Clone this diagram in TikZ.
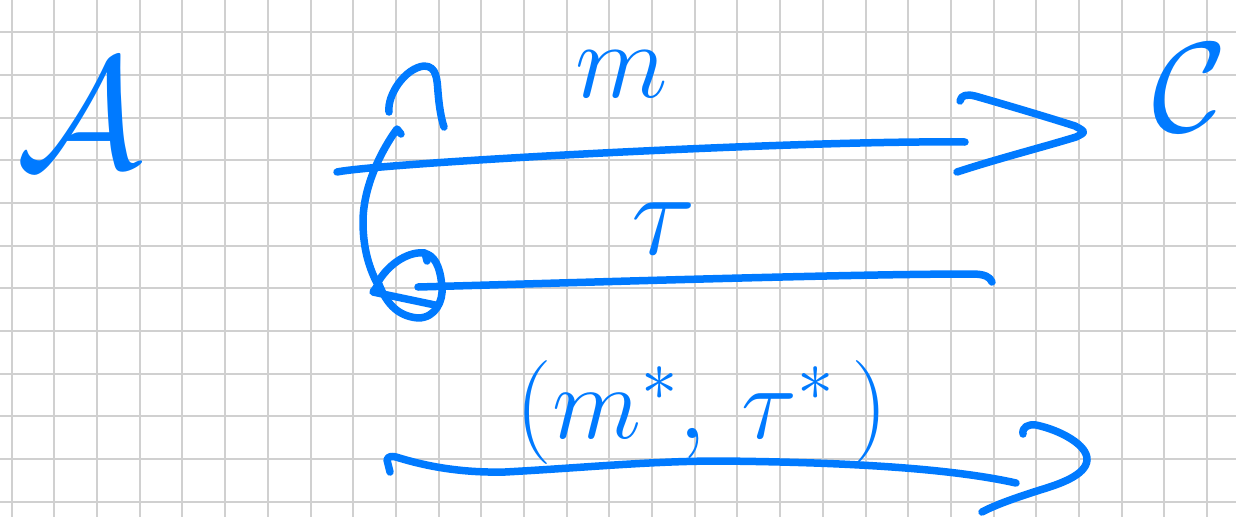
\documentclass[tikz,border=0pt]{standalone}
\usepackage{fix-cm}
\definecolor{ink}{RGB}{0,122,255}
\definecolor{gridgray}{RGB}{208,208,208}
\tikzset{
  gridline/.style={draw=gridgray, line width=2pt},
  hand/.style={draw=ink, line width=7.5pt, line cap=round, line join=round},
  label/.style={text=ink, inner sep=0pt},
}
\newcommand{\fsz}[1]{\fontsize{#1}{#1}\selectfont}
\begin{document}
\begin{tikzpicture}[x=1pt,y=-1pt]
  % page
  \fill[white] (0,0) rectangle (1236,517);
  \useasboundingbox (0,0) rectangle (1236,517);
  % squared paper
  \foreach \i in {0,...,28} \draw[gridline] ({11.7+42.69*\i},0) -- ++(0,517);
  \foreach \j in {0,...,11} \draw[gridline] (0,{32.3+42.67*\j}) -- ++(1236,0);

  % parties
  \node[label, anchor=base, font=\fsz{158}] (adv) at (80,167) {$\mathcal{A}$};
  \node[label, anchor=base, font=\fsz{128}] (chal) at (1190,131) {$\mathcal{C}$};

  % message labels
  \node[label, font=\fsz{108}] (lblm) at (622,74) {$m$};
  \node[label, font=\fsz{120}] (lbltau) at (664,229) {$\tau$};
  \node[label, font=\fsz{104}] (lblpair) at (702,412) {$(m^*,\,\tau^*\,)$};

  % arrow ends
  \coordinate (qstart) at (337,172);
  \coordinate (qend)   at (965,142);
  \coordinate (qtip)   at (1086,132);
  \coordinate (rstart) at (418,287);
  \coordinate (rend)   at (992,282);
  \coordinate (fstart) at (390,472);
  \coordinate (fend)   at (1016,483);
  \coordinate (ftip)   at (1087,460);

  % query m  (A -> C)
  \draw[hand] (qstart) .. controls (380,163) and (800,140) .. (qend);
  \draw[hand] (960,101) .. controls (961,95) and (967,94) .. (975,96)
    .. controls (1010,106) and (1050,118) .. (1075,126)
    .. controls (qtip) and (qtip) .. (1076,137)
    .. controls (1040,148) and (1000,158) .. (957,172);

  % answer tau  (C -> A)
  \draw[hand] (rstart) .. controls (600,282) and (850,274) .. (972,274)
    .. controls (985,274) and (990,277) .. (rend);

  % repetition loop
  \draw[hand] (389,112) .. controls (387,95) and (405,68) .. (424,66)
    .. controls (437,66) and (437,80) .. (438,92)
    .. controls (439,105) and (441,118) .. (444,127);
  \draw[hand] (401,134) -- (397,129) .. controls (383,148) and (363,185) .. (363,222)
    .. controls (363,250) and (370,270) .. (378,285) -- (373,292) -- (435,305);
  \draw[hand] (427,261) -- (425,253) .. controls (410,251) and (390,262) .. (378,282)
    .. controls (385,300) and (395,316) .. (418,318)
    .. controls (436,318) and (443,300) .. (442,288)
    .. controls (441,272) and (437,258) .. (427,254);

  % forgery (A -> C)
  \draw[hand] (fstart) -- (387,460) .. controls (388,456) and (392,456) .. (396,457)
    .. controls (425,466) and (460,473) .. (505,472)
    .. controls (580,468) and (650,461) .. (720,461)
    .. controls (820,462) and (940,466) .. (fend);
  \draw[hand] (1023,434) .. controls (1022,427) and (1028,424) .. (1036,425)
    .. controls (1060,430) and (1088,445) .. (ftip)
    .. controls (1086,475) and (1060,484) .. (1040,490)
    .. controls (1015,498) and (995,505) .. (982,512);
\end{tikzpicture}
\end{document}
